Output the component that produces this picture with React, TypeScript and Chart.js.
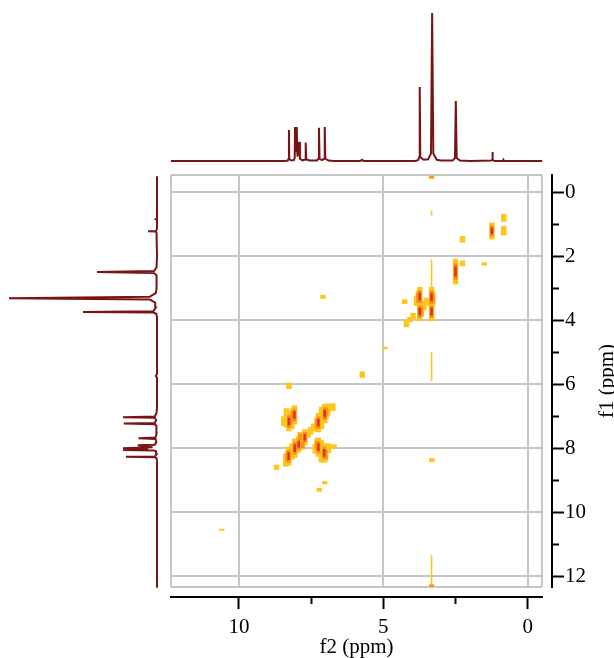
import React, { useEffect, useRef } from 'react';
import { Chart, registerables } from 'chart.js';

Chart.register(...registerables);

// ---- axis ranges (ppm) ----
const f2Min = -0.495;
const f2Max = 12.355;
const f1Min = -0.54;
const f1Max = 12.34;

// ---- ticks / grid ----
const xMajorTicks = [10, 5, 0];
const xMinorTicks = [7.5, 2.5];
const yMajorTicks = [0, 2, 4, 6, 8, 10, 12];
const yMinorTicks = [1, 3, 5, 7, 9, 11];
const xGrid = [10, 5, 0];
const yGrid = [0, 2, 4, 6, 8, 10, 12];

// ---- 1D projection spectrum (ppm, relative intensity) ----
const specPpm = [
  12.36, 8.4, 8.31, 8.28, 8.27, 8.26, 8.2, 8.1, 8.07, 8.06, 8.035, 8.0, 7.975, 7.91, 7.89,
  7.8, 7.71, 7.69, 7.67, 7.55, 7.3, 7.25, 7.23, 7.21, 7.13, 7.05, 7.03, 7.01, 6.9, 6.7,
  5.8, 5.74, 5.68, 3.9, 3.8, 3.76, 3.74, 3.72, 3.6, 3.45, 3.35, 3.31, 3.27, 3.15, 3.0,
  2.6, 2.52, 2.49, 2.46, 2.35, 2.0, 1.26, 1.23, 1.22, 1.21, 1.17, 1.1, 0.86, 0.84, 0.82, -0.5,
];
const specInt = [
  0, 0, 0.3, 1.5, 21, 1.5, 0.4, 0.6, 2, 23, 6, 23, 3, 13, 1.5,
  0.4, 1, 12.5, 1, 0.3, 0.4, 1.5, 22.5, 1.5, 0.6, 1.5, 23, 1.5, 0.3, 0,
  0, 0.8, 0, 0, 0.5, 2.5, 50, 2.5, 0.8, 1.2, 5, 100, 5, 0.8, 0.3,
  0.3, 2, 40.5, 2, 0.3, 0, 0.3, 0.8, 6, 0.8, 0.2, 0, 0, 0.8, 0, 0,
];

// ---- 2D cross peaks: [f2, f1, level (0 thin streak .. 3 strong), f1 half-extent ppm] ----
const aliphaticPeaks: number[][] = [
  [1.24, 1.21, 3, 0.26],
  [0.83, 0.8, 1, 0.12],
  [0.83, 1.2, 1, 0.15],
  [2.26, 1.47, 1, 0.1],
  [2.5, 2.48, 3, 0.4],
  [2.26, 2.22, 1, 0.09],
  [1.5, 2.24, 1, 0.05],
  [3.74, 3.26, 3, 0.3],
  [3.74, 3.73, 3, 0.3],
  [3.33, 3.28, 3, 0.32],
  [3.33, 3.73, 3, 0.3],
  [3.79, 3.3, 2, 0.22],
  [3.69, 3.7, 2, 0.2],
  [3.29, 3.32, 2, 0.22],
  [3.6, 3.55, 1, 0.15],
  [3.5, 3.42, 1, 0.12],
  [3.85, 3.4, 1, 0.15],
  [3.97, 3.87, 1, 0.1],
  [4.2, 4.1, 1, 0.12],
  [4.26, 3.42, 1, 0.07],
  [4.08, 3.98, 1, 0.08],
  [4.95, 4.87, 1, 0.04],
  [5.73, 5.7, 1, 0.1],
  [7.09, 3.27, 1, 0.06],
  [10.6, 10.55, 1, 0.03],
  [3.32, 8.37, 1, 0.06],
];
const aromaticPeaks: number[][] = [
  [8.27, 7.17, 3, 0.3],
  [8.08, 6.96, 3, 0.3],
  [7.25, 7.2, 3, 0.3],
  [7.03, 6.92, 3, 0.3],
  [7.72, 7.66, 3, 0.25],
  [7.93, 7.88, 3, 0.25],
  [8.07, 8.0, 3, 0.3],
  [8.28, 8.25, 3, 0.3],
  [7.25, 7.97, 3, 0.3],
  [7.05, 8.15, 3, 0.3],
  [8.22, 7.12, 2, 0.25],
  [8.13, 7.0, 2, 0.25],
  [7.3, 7.25, 2, 0.22],
  [6.98, 6.88, 2, 0.2],
  [8.02, 7.95, 2, 0.2],
  [8.32, 8.3, 2, 0.22],
  [7.3, 7.92, 2, 0.22],
  [7.0, 8.2, 2, 0.22],
  [7.8, 7.9, 2, 0.15],
  [7.88, 7.64, 2, 0.15],
  [8.36, 7.05, 1, 0.3],
  [8.17, 7.1, 1, 0.3],
  [7.14, 7.05, 1, 0.35],
  [6.93, 6.8, 1, 0.2],
  [6.75, 6.72, 1, 0.12],
  [7.42, 7.35, 1, 0.12],
  [7.52, 7.46, 1, 0.12],
  [7.6, 7.55, 1, 0.12],
  [8.16, 8.1, 1, 0.25],
  [8.38, 8.38, 1, 0.2],
  [7.15, 8.1, 1, 0.35],
  [7.36, 8.02, 1, 0.15],
  [6.9, 8.0, 1, 0.15],
  [8.7, 8.6, 1, 0.08],
  [8.27, 6.05, 1, 0.1],
  [7.22, 9.3, 1, 0.06],
  [7.03, 9.08, 1, 0.05],
  [6.71, 7.95, 1, 0.07],
  [8.45, 7.15, 1, 0.15],
];
const waterStreak: number[][] = [
  [3.33, -0.47, 2, 0.05],
  [3.33, 0.65, 0, 0.08],
  [3.33, 2.55, 0, 0.45],
  [3.33, 5.45, 0, 0.45],
  [3.33, 11.8, 0, 0.45],
  [3.33, 12.3, 2, 0.05],
];

const SPEC_COLOR = '#7a1315';
const GRID_COLOR = '#c6c6c6';
const FONT = 'Liberation Serif';

const allPeaks = [...aliphaticPeaks, ...aromaticPeaks, ...waterStreak];

function peakLayer(minLevel: number, maxLevel: number, k: number, color: string, width: number) {
  return {
    data: allPeaks
      .filter((p) => p[2] >= minLevel && p[2] <= maxLevel)
      .map((p) => ({ x: p[0], y: p[1], s: p[3] })),
    pointStyle: 'line',
    pointRotation: 90,
    pointRadius: (c: any) => {
      const ys = c.chart.scales.y;
      const r = c.raw;
      if (!ys || !r) return 0;
      return Math.abs(ys.getPixelForValue(r.y + r.s * k) - ys.getPixelForValue(r.y));
    },
    pointBorderWidth: width,
    pointBorderColor: color,
    pointBackgroundColor: color,
    showLine: false,
  };
}

const yTitlePlugin = {
  id: 'f1title',
  afterDraw(chart: any) {
    const s = chart.scales.y2;
    const { ctx, chartArea } = chart;
    ctx.save();
    ctx.font = `21px "${FONT}"`;
    ctx.fillStyle = '#000';
    ctx.textAlign = 'center';
    ctx.textBaseline = 'alphabetic';
    ctx.translate(s.right - 1, (chartArea.top + chartArea.bottom) / 2);
    ctx.rotate(-Math.PI / 2);
    ctx.fillText('f1 (ppm)', 0, 0);
    ctx.restore();
  },
};

export default function App() {
  const mainRef = useRef<HTMLCanvasElement>(null);
  const topRef = useRef<HTMLCanvasElement>(null);
  const leftRef = useRef<HTMLCanvasElement>(null);

  useEffect(() => {
    const charts: Chart[] = [];
    const spec = specPpm.map((p, i) => ({ p, v: specInt[i] }));

    // top projection
    charts.push(
      new Chart(topRef.current as HTMLCanvasElement, {
        type: 'scatter',
        data: {
          datasets: [
            {
              data: spec.map((d) => ({ x: d.p, y: d.v })),
              showLine: true,
              pointRadius: 0,
              borderColor: SPEC_COLOR,
              borderWidth: 2,
              clip: false as any,
            },
          ],
        },
        options: {
          responsive: false,
          animation: false,
          events: [],
          layout: { padding: { left: 171, right: 72, top: 13, bottom: 14 } },
          plugins: { legend: { display: false }, tooltip: { enabled: false } },
          scales: {
            x: { type: 'linear', min: f2Min, max: f2Max, reverse: true, display: false },
            y: { type: 'linear', min: 0, max: 100, display: false },
          },
        },
      })
    );

    // left projection
    charts.push(
      new Chart(leftRef.current as HTMLCanvasElement, {
        type: 'scatter',
        data: {
          datasets: [
            {
              data: spec.map((d) => ({ x: d.v, y: d.p })),
              showLine: true,
              pointRadius: 0,
              borderColor: SPEC_COLOR,
              borderWidth: 2,
              clip: false as any,
            },
          ],
        },
        options: {
          responsive: false,
          animation: false,
          events: [],
          layout: { padding: { left: 9, right: 15, top: 175, bottom: 71 } },
          plugins: { legend: { display: false }, tooltip: { enabled: false } },
          scales: {
            x: { type: 'linear', min: 0, max: 100, reverse: true, display: false },
            y: { type: 'linear', min: f1Min, max: f1Max, reverse: true, display: false },
          },
        },
      })
    );

    // main 2D map (first dataset is drawn on top)
    charts.push(
      new Chart(mainRef.current as HTMLCanvasElement, {
        type: 'scatter',
        data: {
          datasets: [
            peakLayer(3, 3, 0.4, '#df311c', 2.5),
            peakLayer(2, 3, 0.65, '#f5901c', 4),
            peakLayer(1, 3, 1, '#ffc51a', 5.5),
            peakLayer(0, 0, 1, '#ffc51a', 1.6),
          ] as any,
        },
        options: {
          responsive: false,
          animation: false,
          events: [],
          layout: { padding: { left: 171, top: 175, right: 0, bottom: 0 } },
          plugins: { legend: { display: false }, tooltip: { enabled: false } },
          scales: {
            x: {
              type: 'linear',
              position: 'bottom',
              weight: 0,
              min: f2Min,
              max: f2Max,
              reverse: true,
              afterBuildTicks: (s: any) => {
                s.ticks = [f2Max, ...xGrid, f2Min].map((v) => ({ value: v }));
              },
              afterFit: (s: any) => {
                s.height = 10;
              },
              grid: { color: GRID_COLOR, lineWidth: 2, drawTicks: false },
              border: { display: false },
              ticks: { display: false },
            },
            x2: {
              type: 'linear',
              position: 'bottom',
              weight: 1,
              min: f2Min,
              max: f2Max,
              reverse: true,
              afterBuildTicks: (s: any) => {
                s.ticks = [...xMajorTicks, ...xMinorTicks].map((v) => ({ value: v }));
              },
              afterFit: (s: any) => {
                s.height = 61;
              },
              grid: {
                drawOnChartArea: false,
                drawTicks: true,
                tickLength: 12,
                tickColor: '#000',
                tickWidth: 2,
                tickBorderDash: (c: any) =>
                  c.tick && xMinorTicks.includes(c.tick.value) ? [6, 40] : [],
              },
              border: { display: true, color: '#000', width: 2 },
              ticks: {
                autoSkip: false,
                maxRotation: 0,
                padding: 6,
                color: '#000',
                font: { family: FONT, size: 21 },
                callback: (v: any) => (xMajorTicks.includes(v) ? String(v) : ''),
              },
              title: {
                display: true,
                text: 'f2 (ppm)',
                color: '#000',
                font: { family: FONT, size: 21, lineHeight: 1 },
                padding: { top: 0, bottom: 0 },
              },
            },
            y: {
              type: 'linear',
              position: 'right',
              weight: 0,
              min: f1Min,
              max: f1Max,
              reverse: true,
              afterBuildTicks: (s: any) => {
                s.ticks = [f1Min, ...yGrid, f1Max].map((v) => ({ value: v }));
              },
              afterFit: (s: any) => {
                s.width = 10;
              },
              grid: { color: GRID_COLOR, lineWidth: 2, drawTicks: false },
              border: { display: false },
              ticks: { display: false },
            },
            y2: {
              type: 'linear',
              position: 'right',
              weight: 1,
              min: f1Min,
              max: f1Max,
              reverse: true,
              afterBuildTicks: (s: any) => {
                s.ticks = [...yMajorTicks, ...yMinorTicks].map((v) => ({ value: v }));
              },
              afterFit: (s: any) => {
                s.width = 62;
              },
              grid: {
                drawOnChartArea: false,
                drawTicks: true,
                tickLength: 12,
                tickColor: '#000',
                tickWidth: 2,
                tickBorderDash: (c: any) =>
                  c.tick && yMinorTicks.includes(c.tick.value) ? [6, 40] : [],
              },
              border: { display: true, color: '#000', width: 2 },
              ticks: {
                autoSkip: false,
                padding: 1,
                color: '#000',
                font: { family: FONT, size: 21 },
                callback: (v: any) => (yMajorTicks.includes(v) ? String(v) : ''),
              },
            },
          } as any,
        },
        plugins: [yTitlePlugin],
      })
    );

    return () => charts.forEach((c) => c.destroy());
  }, []);

  return (
    <div style={{ position: 'absolute', left: 0, top: 0, width: 614, height: 658, background: '#fff', overflow: 'hidden' }}>
      <canvas ref={topRef} width={614} height={175} style={{ position: 'absolute', left: 0, top: 0 }} />
      <canvas ref={leftRef} width={172} height={658} style={{ position: 'absolute', left: 0, top: 0 }} />
      <canvas ref={mainRef} width={614} height={658} style={{ position: 'absolute', left: 0, top: 0 }} />
    </div>
  );
}
